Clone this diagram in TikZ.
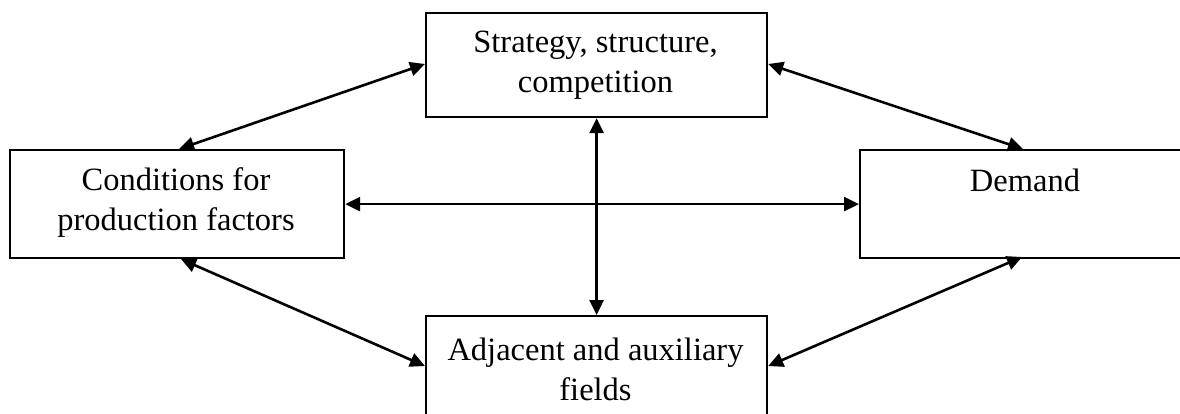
\documentclass[tikz,border=0pt]{standalone}
\usepackage{fontspec}
\setmainfont{Liberation Serif}
\usetikzlibrary{arrows.meta,calc}
\begin{document}
\begin{tikzpicture}[x=1pt,y=-1pt,
  box/.style={draw=black,line width=2.2pt,rectangle,inner sep=0pt,anchor=north west},
  lbl/.style={font=\fontsize{32.5}{40}\selectfont,align=center,inner sep=0pt},
  arr/.style={line width=2.6pt,{Triangle[length=15pt,width=14pt]}-{Triangle[length=15pt,width=14pt]}}]
\useasboundingbox (0,0) rectangle (1180,414);
\clip (0,0) rectangle (1180,414);
\fill[white] (0,0) rectangle (1180,414);
\node[box,minimum width=341pt,minimum height=104pt] (T) at (425,12) {};
\node[box,minimum width=334pt,minimum height=108pt] (L) at (9,149) {};
\node[box,minimum width=360pt,minimum height=108pt] (R) at (859,149) {};
\node[box,minimum width=341pt,minimum height=130pt] (B) at (425,315) {};
\node[lbl] (tT) at (595.5,65) {Strategy, structure,\\competition};
\node[lbl] (tL) at (176,203) {Conditions for\\production factors};
\node[lbl,anchor=base] (tR) at (1025,192) {Demand};
\node[lbl] (tB) at (595.5,369) {Adjacent and auxiliary\\fields};
\draw[arr] ([xshift=2pt]L.north) -- ([yshift=-52pt]T.north west);
\draw[arr] ([yshift=-52pt]T.north east) -- ([xshift=164pt]R.north west);
\draw[arr] ([xshift=4pt]L.south) -- ([yshift=-51pt]B.north west);
\draw[arr] ([yshift=-51pt]B.north east) -- ([xshift=163pt,yshift=-108pt]R.north west);
\draw[arr] (L.east) -- (L.east -| R.west);
\draw[arr] (T.south) -- (B.north);
\end{tikzpicture}
\end{document}
